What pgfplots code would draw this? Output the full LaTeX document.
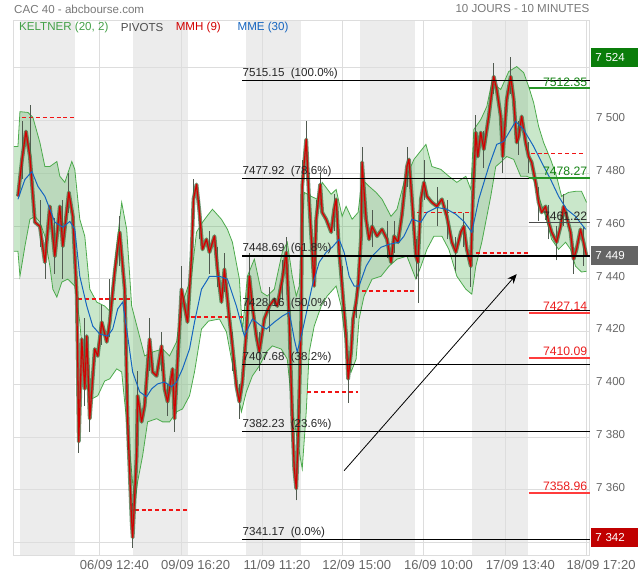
\documentclass[border=0pt]{standalone}
\usepackage{fontspec}
\setmainfont{Liberation Sans}
\usepackage{pgfplots}
\usepackage{pgfplotstable}
\pgfplotsset{compat=1.18}
\usepgfplotslibrary{fillbetween}
\usetikzlibrary{arrows.meta}
\definecolor{gridgray}{RGB}{221,221,221}
\definecolor{daygray}{RGB}{236,236,236}
\definecolor{labgray}{RGB}{102,102,102}
\definecolor{titlegray}{RGB}{120,120,120}
\definecolor{kgreen}{RGB}{76,170,76}
\definecolor{kgreentxt}{RGB}{67,160,71}
\definecolor{kfill}{RGB}{76,175,80}
\definecolor{mmhred}{RGB}{210,0,0}
\definecolor{candred}{RGB}{175,70,55}
\definecolor{candgreen}{RGB}{45,115,65}
\definecolor{wickgray}{RGB}{80,90,80}
\definecolor{mmeblue}{RGB}{21,101,192}
\definecolor{pivred}{RGB}{240,20,20}
\definecolor{supred}{RGB}{255,60,60}
\definecolor{suptxt}{RGB}{235,30,30}
\definecolor{resgreen}{RGB}{40,150,40}
\definecolor{restxt}{RGB}{20,130,20}
\definecolor{boxgreen}{RGB}{10,125,10}
\definecolor{boxgray}{RGB}{100,100,100}
\definecolor{boxred}{RGB}{192,0,0}
\newcommand{\fs}{\fontsize{8.7}{10}\selectfont}
\pgfplotstableread{
x y
18 7471.3
22 7485
26 7495.9
30 7486.4
35 7461.5
40 7459.9
45 7446.3
50 7467.5
55 7448.6
60 7467.5
63 7452.4
69 7472.8
73 7463.7
77 7433.5
79 7378.3
82 7417.2
85 7398.3
87 7418.3
90 7387.0
95 7413.4
98 7410.8
102 7423.6
107 7416.1
110 7423.6
115 7442.6
120 7457.7
125 7436.1
128 7385.8
132 7348.0
133 7342
137 7373.0
138 7395.7
142 7385.8
145 7391.9
150 7417.2
153 7404.7
157 7403.2
162 7414.6
165 7398.3
168 7393.4
173 7405.9
175 7387.0
178 7408.5
182 7436.1
185 7429.7
188 7423.6
192 7448.6
194 7470.2
197 7475.8
200 7465.2
203 7451.2
207 7455.0
210 7450.1
215 7456.2
218 7443.7
222 7431.2
225 7443.7
230 7424.8
233 7414.6
237 7399.4
240 7393.4
243 7400.9
247 7419.9
250 7441.0
253 7429.7
257 7418.3
260 7412.3
265 7424.8
270 7429.7
275 7432.3
278 7429.7
283 7439.9
287 7450.1
290 7424.8
293 7387.0
295 7368.0
297 7360.5
299 7380.5
302 7424.8
303 7475.1
307 7492.9
310 7469.0
313 7450.1
315 7437.3
317 7462.6
321 7475.8
323 7465.2
327 7462.6
332 7457.7
335 7466.4
337 7470.2
340 7450.1
343 7437.3
347 7418.3
349 7402.1
352 7412.3
354 7424.8
357 7431.2
359 7437.3
362 7456.2
363 7484.2
367 7462.6
370 7455.0
373 7459.9
378 7456.2
383 7458.8
388 7455.0
392 7446.3
395 7456.2
399 7453.9
403 7464.5
408 7482.6
410 7485.3
413 7470.2
417 7448.6
419 7446.3
422 7470.2
425 7476.6
428 7471.3
433 7469.0
438 7467.5
443 7470.2
448 7463.7
453 7453.9
457 7450.1
462 7457.7
465 7459.9
468 7451.2
472 7444.8
474 7470.2
477 7495.5
479 7486.4
482 7495.5
485 7489.1
490 7501.6
495 7516.7
498 7511.8
502 7501.6
504 7486.4
508 7508.0
512 7516.7
515 7508.0
518 7491.7
520 7494.0
523 7501.6
527 7491.7
530 7486.4
533 7484.2
537 7476.6
540 7469.0
543 7465.2
547 7467.5
550 7461.5
553 7457.7
558 7453.9
562 7459.9
565 7467.5
568 7463.7
572 7457.7
575 7447.5
578 7451.2
582 7458.8
585 7453.9
588 7448.6
}\pricetable
\begin{document}
\begin{tikzpicture}[x=1pt,y=1pt]
\begin{axis}[
  at={(0,0)}, anchor=south west,
  scale only axis, width=432.75pt, height=402pt,
  xmin=14, xmax=591, ymin=7335.1, ymax=7537.8,
  set layers, clip=false,
  axis line style={draw=gridgray, line width=0.75pt},
  grid=major, major grid style={gridgray, line width=0.75pt},
  major tick length=0pt,
  xtick={100,181.5,263,343,425,507,588},
  xticklabels={06/09 12:40,09/09 16:20,11/09 11:20,12/09 15:00,16/09 10:00,17/09 13:40,18/09 17:20},
  x tick label style={xshift=11pt, font=\fontsize{9.8}{11}\selectfont, text=labgray},
  ytick={7340,7360,7380,7400,7420,7440,7460,7480,7500,7520},
  yticklabels={{},7 360,7 380,7 400,7 420,7 440,7 460,7 480,7 500,{}},
  yticklabel pos=right,
  y tick label style={anchor=west, xshift=1.5pt, yshift=2pt, font=\fs, text=labgray},
  scaled y ticks=false,
  unbounded coords=jump,
]
% day shading
\addplot[draw=none, fill=daygray, on layer=axis background, forget plot] coordinates {(20,7335.1) (75,7335.1) (75,7537.8) (20,7537.8)} --cycle;
\addplot[draw=none, fill=daygray, on layer=axis background, forget plot] coordinates {(133,7335.1) (188,7335.1) (188,7537.8) (133,7537.8)} --cycle;
\addplot[draw=none, fill=daygray, on layer=axis background, forget plot] coordinates {(247,7335.1) (302,7335.1) (302,7537.8) (247,7537.8)} --cycle;
\addplot[draw=none, fill=daygray, on layer=axis background, forget plot] coordinates {(361,7335.1) (416,7335.1) (416,7537.8) (361,7537.8)} --cycle;
\addplot[draw=none, fill=daygray, on layer=axis background, forget plot] coordinates {(473,7335.1) (529,7335.1) (529,7537.8) (473,7537.8)} --cycle;

% Keltner bands
\addplot[name path=ku, kgreen, line width=0.6pt] coordinates {
(14,7490.2) (18,7490.2) (20,7503.4) (28,7503.1) (33,7501.2) (40,7491.7) (45,7482.6) (50,7482.6) (57,7484.5) (60,7478.9) (65,7476.6) (72,7484.5) (75,7481.5) (80,7462.6) (85,7456.2) (90,7436.1) (97,7431.2) (105,7429.7) (110,7427.8) (117,7452.4) (122,7469.0) (127,7458.8) (132,7429.7) (138,7421.0) (145,7410.8) (153,7412.3) (163,7413.4) (170,7410.8) (177,7416.1) (182,7429.7) (192,7441.0) (197,7457.7) (203,7461.5) (209,7464.5) (213,7466.4) (222,7462.6) (228,7458.8) (233,7453.9) (240,7439.9) (243,7419.9) (248,7441.0) (255,7447.5) (262,7435.0) (268,7433.5) (275,7436.1) (283,7450.1) (288,7453.9) (293,7441.0) (297,7433.5) (300,7437.3) (305,7472.8) (312,7471.3) (318,7470.2) (323,7476.6) (332,7472.1) (337,7473.9) (343,7463.7) (347,7467.5) (353,7462.6) (359,7465.2) (363,7477.7) (370,7475.1) (377,7472.8) (383,7470.2) (392,7463.7) (398,7466.4) (405,7476.6) (415,7485.3) (427,7491.0) (433,7482.6) (442,7481.5) (450,7478.9) (458,7476.6) (467,7478.9) (472,7473.9) (475,7496.6) (482,7500.4) (488,7505.3) (493,7514.4) (502,7511.8) (510,7518.6) (518,7520.5) (525,7518.2) (530,7512.9) (535,7506.8) (540,7497.8) (545,7491.7) (552,7485.3) (558,7478.9) (563,7471.3) (570,7472.8) (577,7473.2) (583,7473.2) (588,7469.0)};
\addplot[name path=kl, kgreen, line width=0.6pt] coordinates {
(14,7450.5) (18,7450.5) (20,7441.0) (25,7452.4) (30,7462.6) (35,7463.7) (40,7461.5) (45,7456.2) (50,7444.8) (53,7436.1) (57,7433.1) (62,7438.8) (68,7439.9) (75,7437.3) (80,7423.6) (85,7400.9) (92,7394.5) (98,7395.7) (105,7401.3) (110,7402.1) (117,7405.9) (122,7404.7) (127,7385.8) (132,7366.9) (135,7354.1) (138,7363.1) (143,7373.0) (148,7385.8) (157,7387.0) (163,7385.8) (170,7385.8) (177,7389.6) (183,7390.7) (190,7395.7) (195,7404.7) (202,7421.0) (209,7424.0) (220,7424.8) (227,7419.9) (237,7399.4) (242,7389.6) (247,7397.2) (253,7403.2) (260,7407.0) (267,7412.3) (273,7414.6) (282,7413.4) (288,7409.6) (293,7390.7) (300,7374.5) (303,7368.0) (307,7389.6) (310,7412.3) (315,7422.1) (322,7429.7) (328,7433.5) (337,7437.3) (342,7429.7) (347,7414.6) (352,7404.7) (357,7409.6) (360,7424.8) (365,7433.5) (373,7439.9) (382,7441.0) (390,7444.8) (398,7447.5) (408,7448.6) (417,7439.9) (422,7444.8) (428,7451.2) (435,7456.2) (443,7456.2) (450,7451.2) (458,7441.0) (467,7436.1) (473,7434.2) (477,7444.8) (483,7453.9) (492,7471.3) (497,7482.6) (502,7484.2) (508,7486.4) (515,7485.3) (522,7478.9) (528,7478.9) (535,7477.7) (540,7471.3) (547,7463.7) (553,7455.0) (560,7451.2) (567,7453.9) (572,7451.2) (577,7444.8) (583,7442.6) (588,7442.9)};
\addplot[kfill, fill opacity=0.3] fill between[of=ku and kl];

% daily pivots (dashed)
\addplot[color=pivred, line width=1.3pt, dash pattern=on 3pt off 2.2pt, forget plot] coordinates {(22,7501.2) (75,7501.2)};
\addplot[color=pivred, line width=1.3pt, dash pattern=on 3pt off 2.2pt, forget plot] coordinates {(78,7432.3) (132,7432.3)};
\addplot[color=pivred, line width=1.3pt, dash pattern=on 3pt off 2.2pt, forget plot] coordinates {(135,7352.5) (188,7352.5)};
\addplot[color=pivred, line width=1.3pt, dash pattern=on 3pt off 2.2pt, forget plot] coordinates {(191,7425.5) (245,7425.5)};
\addplot[color=pivred, line width=1.3pt, dash pattern=on 3pt off 2.2pt, forget plot] coordinates {(308,7397.2) (359,7397.2)};
\addplot[color=pivred, line width=1.3pt, dash pattern=on 3pt off 2.2pt, forget plot] coordinates {(363,7435.3) (417,7435.3)};
\addplot[color=pivred, line width=1.3pt, dash pattern=on 3pt off 2.2pt, forget plot] coordinates {(418,7465.2) (473,7465.2)};
\addplot[color=pivred, line width=1.3pt, dash pattern=on 3pt off 2.2pt, forget plot] coordinates {(477,7449.7) (530,7449.7)};
\addplot[color=pivred, line width=1.3pt, dash pattern=on 3pt off 2.2pt, forget plot] coordinates {(532,7487.5) (587,7487.5)};

% candle wicks (low-high)
\addplot[wickgray, line width=0.55pt] coordinates {
(22,7478) (22,7500) (22,nan) (30,7480) (30,7506) (30,nan) (40,7452) (40,7470) (40,nan) (45,7440) (45,7455) (45,nan)
(55,7442) (55,7463) (55,nan) (63,7440) (63,7470) (63,nan) (69,7465) (69,7480) (69,nan) (79,7374) (79,7400) (79,nan)
(85,7392) (85,7425) (85,nan) (90,7382) (90,7400) (90,nan) (102,7415) (102,7430) (102,nan) (110,7418) (110,7440) (110,nan)
(120,7445) (120,7464) (120,nan) (128,7375) (128,7400) (128,nan) (133,7338) (133,7355) (133,nan) (138,7385) (138,7405) (138,nan)
(150,7405) (150,7425) (150,nan) (162,7405) (162,7420) (162,nan) (168,7388) (168,7400) (168,nan) (175,7382) (175,7395) (175,nan)
(182,7425) (182,7445) (182,nan) (194,7460) (194,7478) (194,nan) (200,7455) (200,7470) (200,nan) (210,7442) (210,7458) (210,nan)
(218,7437) (218,7452) (218,nan) (225,7435) (225,7450) (225,nan) (233,7405) (233,7420) (233,nan) (240,7387) (240,7400) (240,nan)
(250,7430) (250,7450) (250,nan) (260,7405) (260,7420) (260,nan) (270,7420) (270,7437) (270,nan) (283,7432) (283,7447) (283,nan)
(287,7440) (287,7456) (287,nan) (297,7356) (297,7370) (297,nan) (303,7465) (303,7485) (303,nan) (307,7485) (307,7500) (307,nan)
(317,7455) (317,7470) (317,nan) (321,7468) (321,7480) (321,nan) (335,7458) (335,7472) (335,nan) (343,7430) (343,7445) (343,nan)
(349,7393) (349,7410) (349,nan) (357,7425) (357,7437) (357,nan) (363,7477) (363,7490) (363,nan) (373,7452) (373,7466) (373,nan)
(388,7448) (388,7462) (388,nan) (395,7450) (395,7462) (395,nan) (408,7475) (408,7490) (408,nan) (417,7440) (417,7455) (417,nan)
(419,7431) (419,7447) (419,nan) (425,7470) (425,7485) (425,nan) (438,7460) (438,7475) (438,nan) (448,7455) (448,7470) (448,nan)
(457,7443) (457,7456) (457,nan) (465,7452) (465,7465) (465,nan) (472,7437) (472,7450) (472,nan) (477,7488) (477,7502) (477,nan)
(485,7482) (485,7496) (485,nan) (495,7510) (495,7522) (495,nan) (504,7480) (504,7492) (504,nan) (512,7510) (512,7524) (512,nan)
(520,7487) (520,7500) (520,nan) (530,7480) (530,7492) (530,nan) (540,7462) (540,7475) (540,nan) (550,7455) (550,7468) (550,nan)
(558,7447) (558,7460) (558,nan) (565,7460) (565,7472) (565,nan) (575,7442) (575,7452) (575,nan) (585,7445) (585,7460)};

% price (candles approximated) and MMH(9)
\addplot[candgreen, line width=2.9pt, line join=round, opacity=0.7] table[x=x,y=y] {\pricetable};
\addplot[candred, line width=1.8pt, line join=round, opacity=0.75] table[x=x,y=y] {\pricetable};
\addplot[mmhred, line width=0.8pt, line join=round] table[x=x,y=y] {\pricetable};

% MME(30)
\addplot[mmeblue, line width=0.75pt] coordinates {
(18,7470.2) (25,7477.7) (32,7480.7) (38,7475.1) (45,7471.3) (50,7466.4) (55,7461.5) (63,7459.6) (70,7461.8) (75,7458.8) (80,7441.0) (87,7429.7) (93,7422.1) (100,7419.1) (108,7418.3) (113,7421.0) (118,7428.6) (123,7431.2) (128,7418.3) (133,7404.7) (140,7397.2) (147,7395.3) (152,7398.3) (158,7400.2) (165,7400.9) (172,7399.1) (177,7400.9) (183,7405.9) (190,7413.4) (195,7423.6) (202,7436.1) (207,7439.1) (210,7441.0) (220,7441.0) (228,7439.9) (237,7429.7) (245,7418.3) (253,7424.8) (262,7422.1) (267,7421.0) (275,7423.6) (283,7425.9) (290,7427.4) (295,7417.2) (298,7412.3) (303,7419.9) (308,7428.6) (313,7437.3) (320,7446.3) (327,7450.1) (333,7452.0) (340,7455.0) (345,7450.1) (350,7441.0) (355,7437.3) (360,7437.3) (367,7444.8) (373,7448.6) (382,7452.0) (390,7453.1) (400,7453.9) (405,7456.2) (413,7462.6) (422,7461.5) (428,7465.2) (438,7467.1) (448,7466.4) (457,7464.5) (465,7461.8) (473,7457.7) (480,7470.2) (490,7482.6) (498,7491.0) (505,7492.1) (512,7496.6) (517,7499.7) (525,7496.6) (535,7490.2) (543,7484.2) (552,7477.7) (560,7471.3) (568,7466.4) (577,7463.7) (587,7458.8)};

% Fibonacci retracement levels
\addplot[black, line width=0.8pt] coordinates {(243,7515.15) (591,7515.15)};
\addplot[black, line width=0.8pt] coordinates {(243,7477.92) (591,7477.92)};
\addplot[black, line width=0.8pt] coordinates {(243,7448.69) (591,7448.69)};
\addplot[black, line width=0.8pt] coordinates {(243,7428.16) (591,7428.16)};
\addplot[black, line width=0.8pt] coordinates {(243,7407.68) (591,7407.68)};
\addplot[black, line width=0.8pt] coordinates {(243,7382.23) (591,7382.23)};
\addplot[black, line width=0.8pt] coordinates {(243,7341.17) (591,7341.17)};
\node[anchor=south west, inner xsep=0pt, inner ysep=1pt, font=\fs, text=black!85] at (axis cs:243,7515.15) {7515.15\ \ (100.0\%)};
\node[anchor=south west, inner xsep=0pt, inner ysep=1pt, font=\fs, text=black!85] at (axis cs:243,7477.92) {7477.92\ \ (78.6\%)};
\node[anchor=south west, inner xsep=0pt, inner ysep=1pt, font=\fs, text=black!85] at (axis cs:243,7448.69) {7448.69\ \ (61.8\%)};
\node[anchor=south west, inner xsep=0pt, inner ysep=1pt, font=\fs, text=black!85] at (axis cs:243,7428.16) {7428.16\ \ (50.0\%)};
\node[anchor=south west, inner xsep=0pt, inner ysep=1pt, font=\fs, text=black!85] at (axis cs:243,7407.68) {7407.68\ \ (38.2\%)};
\node[anchor=south west, inner xsep=0pt, inner ysep=1pt, font=\fs, text=black!85] at (axis cs:243,7382.23) {7382.23\ \ (23.6\%)};
\node[anchor=south west, inner xsep=0pt, inner ysep=1pt, font=\fs, text=black!85] at (axis cs:243,7341.17) {7341.17\ \ (0.0\%)};

% Pivot supports / resistances for the last day
\addplot[resgreen, line width=1.5pt] coordinates {(530,7512.35) (591,7512.35)};
\addplot[resgreen, line width=1.5pt] coordinates {(530,7478.27) (591,7478.27)};
\addplot[black!70, line width=0.75pt] coordinates {(530,7461.22) (591,7461.22)};
\addplot[supred, line width=1.5pt] coordinates {(530,7427.14) (591,7427.14)};
\addplot[supred, line width=1.5pt] coordinates {(530,7410.09) (591,7410.09)};
\addplot[supred, line width=1.5pt] coordinates {(530,7358.96) (591,7358.96)};
\node[anchor=south east, inner xsep=0pt, inner ysep=1.2pt, font=\fontsize{9.2}{10}\selectfont, text=restxt] at (axis cs:589,7512.35) {7512.35};
\node[anchor=south east, inner xsep=0pt, inner ysep=1.2pt, font=\fontsize{9.2}{10}\selectfont, text=restxt] at (axis cs:589,7478.27) {7478.27};
\node[anchor=south east, inner xsep=0pt, inner ysep=1.2pt, font=\fontsize{9.2}{10}\selectfont, text=black!85] at (axis cs:589,7461.22) {7461.22};
\node[anchor=south east, inner xsep=0pt, inner ysep=1.2pt, font=\fontsize{9.2}{10}\selectfont, text=suptxt] at (axis cs:589,7427.14) {7427.14};
\node[anchor=south east, inner xsep=0pt, inner ysep=1.2pt, font=\fontsize{9.2}{10}\selectfont, text=suptxt] at (axis cs:589,7410.09) {7410.09};
\node[anchor=south east, inner xsep=0pt, inner ysep=1.2pt, font=\fontsize{9.2}{10}\selectfont, text=suptxt] at (axis cs:589,7358.96) {7358.96};

% trend arrow
\addplot[black, line width=0.6pt, -{Stealth[length=7pt,width=6pt]}] coordinates {(345,7367.3) (518,7441.8)};

% price boxes on the right
\node[anchor=west, fill=boxgreen, text=white, inner xsep=3pt, inner ysep=0pt, minimum height=14.25pt, text width=29pt, align=left, font=\fs] at (axis cs:592.5,7524) {7 524};
\node[anchor=west, fill=boxgray, text=white, inner xsep=3pt, inner ysep=0pt, minimum height=14.25pt, text width=29pt, align=left, font=\fs] at (axis cs:592.5,7449) {7 449};
\node[anchor=west, fill=boxred, text=white, inner xsep=3pt, inner ysep=0pt, minimum height=14.25pt, text width=29pt, align=left, font=\fs] at (axis cs:592.5,7342) {7 342};
\end{axis}
% titles and legend
\node[anchor=west, inner sep=0pt, font=\fs, text=titlegray] at (0,411) {CAC 40 - abcbourse.com};
\node[anchor=east, inner sep=0pt, font=\fs, text=titlegray] at (432.75,411) {10 JOURS - 10 MINUTES};
\node[anchor=west, inner sep=0pt, font=\fs, text=kgreentxt] at (3.75,396.75) {KELTNER (20, 2)};
\node[anchor=west, inner sep=0pt, font=\fs, text=black!70] at (80.25,396.75) {PIVOTS};
\node[anchor=west, inner sep=0pt, font=\fs, text=mmhred] at (121.5,396.75) {MMH (9)};
\node[anchor=west, inner sep=0pt, font=\fs, text=mmeblue] at (168,396.75) {MME (30)};
\path (-10.5,-17.25) rectangle (469.5,417.75);
\end{tikzpicture}
\end{document}
